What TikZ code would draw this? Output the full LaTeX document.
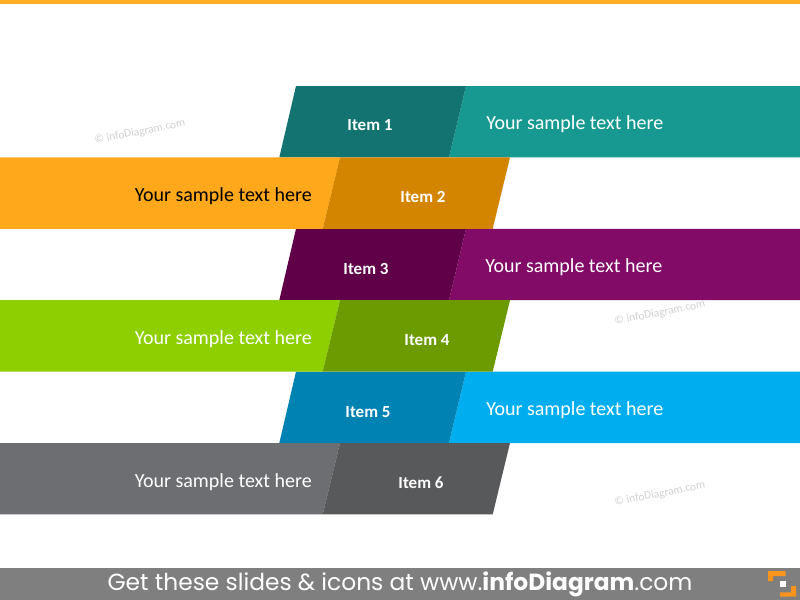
\documentclass[tikz,border=0pt]{standalone}
\usepackage{fontspec}
\setmainfont{Carlito}
\newfontfamily\footfont{Poppins}
\definecolor{topbar}{HTML}{FFAF22}
\definecolor{dA}{HTML}{137370}\definecolor{lA}{HTML}{179992}
\definecolor{dB}{HTML}{D48500}\definecolor{lB}{HTML}{FFA81C}
\definecolor{dC}{HTML}{600048}\definecolor{lC}{HTML}{830B68}
\definecolor{dD}{HTML}{6B9B00}\definecolor{lD}{HTML}{8DCF00}
\definecolor{dE}{HTML}{0083B3}\definecolor{lE}{HTML}{00AEEF}
\definecolor{dF}{HTML}{58595B}\definecolor{lF}{HTML}{6D6E71}
\definecolor{footgray}{HTML}{7F7F7F}
\definecolor{logoorange}{HTML}{F7941D}
\definecolor{wm}{HTML}{D0D0D0}
\begin{document}
\begin{tikzpicture}[x=0.75pt,y=-0.75pt,
  itemtxt/.style={text=white,font=\fontsize{12.75}{15}\selectfont\bfseries,inner sep=0pt},
  bodytxt/.style={text=white,font=\fontsize{15}{18}\selectfont,inner sep=0pt},
  wmtxt/.style={text=wm,font=\fontsize{8.6}{10}\selectfont,rotate=11,inner sep=0pt}]
\useasboundingbox (0,0) rectangle (800,600);
\fill[white] (0,0) rectangle (800,600);
\fill[topbar] (0,0) rectangle (800,3.5);
% odd rows (dark left-centre, light right)
\foreach \t/\d/\l in {86/dA/lA, 228.8/dC/lC, 371.6/dE/lE}{
  \fill[\l] (466,\t) -- (800,\t) -- (800,\t+71.4) -- (449,\t+71.4) -- cycle;
  \fill[\d] (296,\t) -- (466,\t) -- (449,\t+71.4) -- (279.3,\t+71.4) -- cycle;
}
% even rows (light left, dark centre)
\foreach \t/\d/\l in {157.4/dB/lB, 300.2/dD/lD, 443/dF/lF}{
  \fill[\l] (0,\t) -- (340,\t) -- (322.7,\t+71.4) -- (0,\t+71.4) -- cycle;
  \fill[\d] (340,\t) -- (510,\t) -- (492.7,\t+71.4) -- (322.7,\t+71.4) -- cycle;
}
% labels
\node[itemtxt] (i1) at (370,125.5) {Item 1};
\node[itemtxt] (i2) at (423,197) {Item 2};
\node[itemtxt] (i3) at (366,269) {Item 3};
\node[itemtxt] (i4) at (427,340.5) {Item 4};
\node[itemtxt] (i5) at (368,412) {Item 5};
\node[itemtxt] (i6) at (421,483) {Item 6};
\node[bodytxt,anchor=west] (t1) at (486,124.5) {Your sample text here};
\node[bodytxt,anchor=east,text=black] (t2) at (312,196) {Your sample text here};
\node[bodytxt,anchor=west] (t3) at (485,267.5) {Your sample text here};
\node[bodytxt,anchor=east] (t4) at (312,339) {Your sample text here};
\node[bodytxt,anchor=west] (t5) at (486,410.5) {Your sample text here};
\node[bodytxt,anchor=east] (t6) at (312,482) {Your sample text here};
% watermarks
\node[wmtxt] (w1) at (140,132) {© infoDiagram.com};
\node[wmtxt] (w2) at (660,313) {© infoDiagram.com};
\node[wmtxt] (w3) at (660,494) {© infoDiagram.com};
% footer
\fill[footgray] (0,568) rectangle (800,600);
\node[text=white,font=\footfont\fontsize{17.5}{20}\selectfont,inner sep=0pt] (foot) at (400,584) {Get these slides \& icons at www.\textbf{infoDiagram}.com};
% logo
\fill[logoorange] (768,571) -- (785.7,571) -- (785.7,576) -- (773,576) -- (773,581) -- (768,581) -- cycle;
\fill[white] (780,581) rectangle (785.7,586.7);
\fill[logoorange] (791,586) -- (796,586) -- (796,596.7) -- (780,596.7) -- (780,592.3) -- (791,592.3) -- cycle;
\end{tikzpicture}
\end{document}
